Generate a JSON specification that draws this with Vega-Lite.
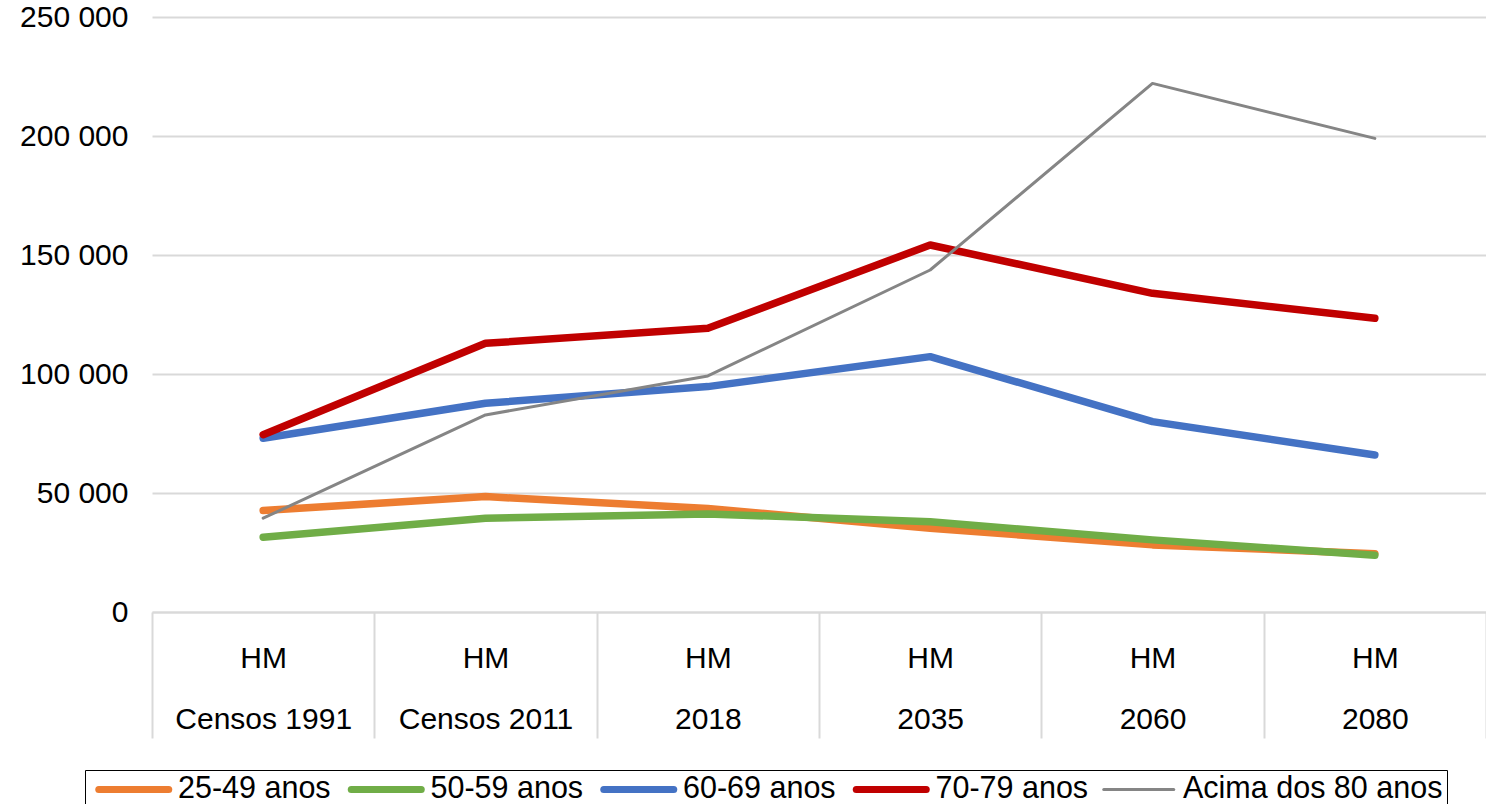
{
  "$schema": "https://vega.github.io/schema/vega-lite/v6.json",
  "width": 1334,
  "height": 595,
  "autosize": {"type": "none"},
  "padding": {"left": 152, "top": 17, "right": 0, "bottom": 192},
  "background": "white",
  "config": {"font": "Liberation Sans", "view": {"stroke": null}},
  "data": {
    "values": [
      {"periodo": "Censos 1991", "grupo": "25-49 anos", "valor": 42600},
      {"periodo": "Censos 2011", "grupo": "25-49 anos", "valor": 48500},
      {"periodo": "2018", "grupo": "25-49 anos", "valor": 43500},
      {"periodo": "2035", "grupo": "25-49 anos", "valor": 35200},
      {"periodo": "2060", "grupo": "25-49 anos", "valor": 28200},
      {"periodo": "2080", "grupo": "25-49 anos", "valor": 24500},
      {"periodo": "Censos 1991", "grupo": "50-59 anos", "valor": 31400},
      {"periodo": "Censos 2011", "grupo": "50-59 anos", "valor": 39400},
      {"periodo": "2018", "grupo": "50-59 anos", "valor": 41200},
      {"periodo": "2035", "grupo": "50-59 anos", "valor": 37900},
      {"periodo": "2060", "grupo": "50-59 anos", "valor": 30300},
      {"periodo": "2080", "grupo": "50-59 anos", "valor": 23800},
      {"periodo": "Censos 1991", "grupo": "60-69 anos", "valor": 73000},
      {"periodo": "Censos 2011", "grupo": "60-69 anos", "valor": 87700},
      {"periodo": "2018", "grupo": "60-69 anos", "valor": 94700},
      {"periodo": "2035", "grupo": "60-69 anos", "valor": 107300},
      {"periodo": "2060", "grupo": "60-69 anos", "valor": 80000},
      {"periodo": "2080", "grupo": "60-69 anos", "valor": 66000},
      {"periodo": "Censos 1991", "grupo": "70-79 anos", "valor": 74500},
      {"periodo": "Censos 2011", "grupo": "70-79 anos", "valor": 112900},
      {"periodo": "2018", "grupo": "70-79 anos", "valor": 119200},
      {"periodo": "2035", "grupo": "70-79 anos", "valor": 154200},
      {"periodo": "2060", "grupo": "70-79 anos", "valor": 133900},
      {"periodo": "2080", "grupo": "70-79 anos", "valor": 123400},
      {"periodo": "Censos 1991", "grupo": "Acima dos 80 anos", "valor": 39400},
      {"periodo": "Censos 2011", "grupo": "Acima dos 80 anos", "valor": 82800},
      {"periodo": "2018", "grupo": "Acima dos 80 anos", "valor": 99200},
      {"periodo": "2035", "grupo": "Acima dos 80 anos", "valor": 143700},
      {"periodo": "2060", "grupo": "Acima dos 80 anos", "valor": 222100},
      {"periodo": "2080", "grupo": "Acima dos 80 anos", "valor": 199000}
    ]
  },
  "mark": {"type": "line", "strokeCap": "round", "strokeJoin": "round"},
  "encoding": {
    "x": {
      "field": "periodo",
      "type": "nominal",
      "sort": null,
      "scale": {"type": "band", "paddingInner": 0, "paddingOuter": 0},
      "axis": {
        "title": null,
        "labelAngle": 0,
        "labelExpr": "isValid(datum.label) && datum.label !== '' ? ['HM', datum.label] : ''",
        "labelFontSize": 30,
        "labelColor": "#000000",
        "labelLineHeight": 61,
        "labelBaseline": "top",
        "labelPadding": -95,
        "tickBand": "extent",
        "tickSize": 126,
        "tickColor": "#d9d9d9",
        "tickWidth": 2,
        "domainColor": "#d9d9d9",
        "domainWidth": 2,
        "grid": false
      }
    },
    "y": {
      "field": "valor",
      "type": "quantitative",
      "scale": {"domain": [0, 250000]},
      "axis": {
        "title": null,
        "values": [0, 50000, 100000, 150000, 200000, 250000],
        "labelExpr": "replace(format(datum.value, ','), ',', ' ')",
        "labelFontSize": 30,
        "labelColor": "#000000",
        "labelPadding": 24,
        "ticks": false,
        "domain": false,
        "gridColor": "#d9d9d9",
        "gridWidth": 2
      }
    },
    "color": {
      "field": "grupo",
      "type": "nominal",
      "scale": {
        "domain": ["25-49 anos", "50-59 anos", "60-69 anos", "70-79 anos", "Acima dos 80 anos"],
        "range": ["#ED7D31", "#70AD47", "#4472C4", "#C00000", "#858585"]
      },
      "legend": {
        "title": null,
        "orient": "none",
        "legendX": -67,
        "legendY": 753,
        "direction": "horizontal",
        "columns": 5,
        "symbolType": "M-3.5,0H3.5",
        "symbolSize": 400,
        "symbolStrokeWidth": 7,
        "symbolOffset": 29.5,
        "labelFontSize": 30.5,
        "labelColor": "#000000",
        "labelLimit": 0,
        "labelOffset": 29,
        "columnPadding": 5.5,
        "padding": 4,
        "strokeColor": "#000000",
        "encode": {
          "symbols": {
            "update": {
              "strokeCap": {"value": "round"},
              "strokeWidth": {"signal": "(datum.value === 'Acima dos 80 anos' ? 3 : 7)"}
            }
          }
        }
      }
    },
    "strokeWidth": {
      "condition": {"test": "datum.grupo === 'Acima dos 80 anos'", "value": 3},
      "value": 7.5
    }
  }
}
